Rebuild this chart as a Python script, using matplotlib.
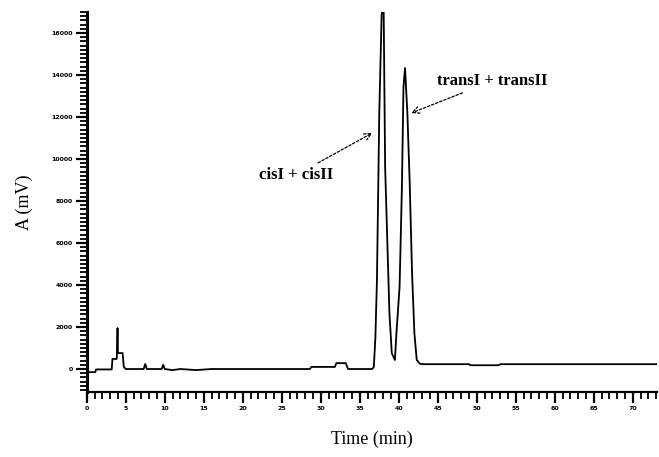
import numpy as np
import matplotlib.pyplot as plt
from matplotlib.ticker import MultipleLocator

# chromatogram trace (time in min, signal in mV)
t = [0.0, 0.1, 1.1, 1.2, 3.2, 3.3, 3.85, 3.95, 4.0, 4.05, 4.6, 4.75, 5.0,
     6.5, 7.3, 7.5, 7.7, 8.5, 9.6, 9.8, 10.0, 11.0, 12.0, 14.0, 16.0, 20.0,
     28.6, 28.8, 31.8, 32.0, 33.2, 33.5, 36.6,
     36.8, 37.0, 37.2, 37.5, 37.8, 38.0, 38.05, 38.25, 38.5, 38.8, 39.1, 39.5,
     39.7, 40.1, 40.4, 40.6, 40.8, 41.1, 41.4, 41.7, 42.0, 42.3, 42.7, 43.2,
     49.0, 49.2, 52.8, 53.0, 73.1]
a = [-50, -150, -150, -20, -20, 480, 480, 1950, 760, 760, 760, 100, 0,
     0, 0, 240, 0, 0, 0, 200, 0, -50, 0, -50, 0, 0,
     0, 100, 100, 280, 280, 0, 0,
     100, 1500, 4240, 12190, 16850, 17500, 17500, 9600, 6470, 2660, 760, 430,
     1710, 3900, 8660, 13420, 14330, 12190, 8850, 4570, 1710, 430, 250, 230,
     230, 180, 180, 230, 230]

x_ticks = np.arange(0, 75, 5)
y_ticks = np.arange(0, 18000, 2000)

fig = plt.figure(figsize=(6.59, 4.57), dpi=100)
ax = fig.add_axes([0.1316, 0.1422, 0.8654, 0.8315])
ax.plot(t, a, color="black", lw=1.3)

ax.set_xlim(0, 73.1)
ax.set_ylim(-1095, 17000)
ax.spines["top"].set_visible(False)
ax.spines["right"].set_visible(False)
ax.spines["left"].set_linewidth(2.2)
ax.spines["bottom"].set_linewidth(1.6)

ax.set_xticks(x_ticks)
ax.set_xticklabels([str(v) for v in x_ticks])
ax.xaxis.set_minor_locator(MultipleLocator(1))
ax.set_yticks(y_ticks)
ax.set_yticklabels([str(v) for v in y_ticks])
ax.yaxis.set_minor_locator(MultipleLocator(200))
ax.tick_params(axis="both", which="major", direction="out", length=8, width=1.6,
               labelsize=4.5, pad=2)
ax.tick_params(axis="both", which="minor", direction="out", length=5, width=1.3)
for lab in ax.get_xticklabels() + ax.get_yticklabels():
    lab.set_fontweight("bold")

ax.set_xlabel("Time (min)", family="Liberation Serif", fontsize=13, labelpad=14)
ax.set_ylabel("A (mV)", family="Liberation Serif", fontsize=13, labelpad=13)

ax.annotate("cisI + cisII", xy=(36.6, 11240), xytext=(31.6, 9240),
            ha="right", va="center", family="Liberation Serif", fontsize=12,
            fontweight="bold",
            arrowprops=dict(arrowstyle="->", ls=(0, (2, 1.5)), lw=0.9, color="black",
                            shrinkA=2, shrinkB=0))
ax.annotate("transI + transII", xy=(41.6, 12190), xytext=(44.9, 13710),
            ha="left", va="center", family="Liberation Serif", fontsize=12,
            fontweight="bold",
            arrowprops=dict(arrowstyle="->", ls=(0, (2, 1.5)), lw=0.9, color="black",
                            shrinkA=2, shrinkB=0))

fig.savefig("out.png", dpi=100)
